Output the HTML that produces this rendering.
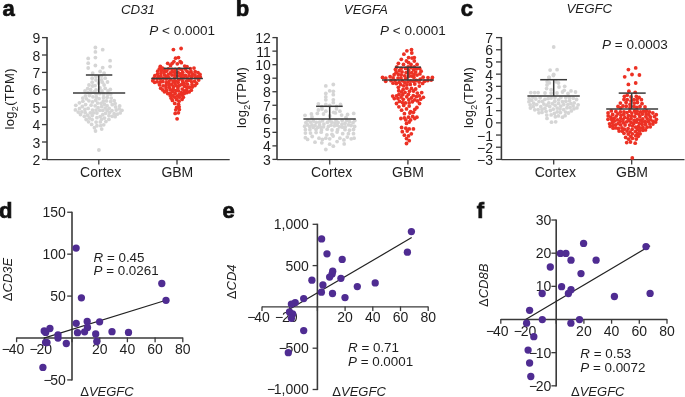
<!DOCTYPE html>
<html><head><meta charset="utf-8"><style>
html,body{margin:0;padding:0;background:#fff;overflow:hidden;width:685px;height:397px;}
svg{display:block;filter:blur(0.4px);font-family:"Liberation Sans",sans-serif;}
</style></head><body>
<svg width="685" height="397" viewBox="0 0 685 397">
<rect width="685" height="397" fill="#fff"/>
<text x="2.5" y="15.6" font-size="22" text-anchor="start" font-weight="bold" fill="#111" stroke="#111" stroke-width="0.7">a</text>
<text x="235.8" y="15.7" font-size="22" text-anchor="start" font-weight="bold" fill="#111" stroke="#111" stroke-width="0.7">b</text>
<text x="460.8" y="15.7" font-size="22" text-anchor="start" font-weight="bold" fill="#111" stroke="#111" stroke-width="0.7">c</text>
<text x="-1" y="218" font-size="22" text-anchor="start" font-weight="bold" fill="#111" stroke="#111" stroke-width="0.7">d</text>
<text x="222.4" y="218.4" font-size="22" text-anchor="start" font-weight="bold" fill="#111" stroke="#111" stroke-width="0.7">e</text>
<text x="476.8" y="217.7" font-size="22" text-anchor="start" font-weight="bold" fill="#111" stroke="#111" stroke-width="0.7">f</text>
<line x1="42" y1="159.4" x2="47" y2="159.4" stroke="#3a3a3a" stroke-width="1.3"/>
<text x="40.4" y="165" font-size="14" text-anchor="end" fill="#1e1e1e">2</text>
<line x1="42" y1="142" x2="47" y2="142" stroke="#3a3a3a" stroke-width="1.3"/>
<text x="40.4" y="147.6" font-size="14" text-anchor="end" fill="#1e1e1e">3</text>
<line x1="42" y1="124.6" x2="47" y2="124.6" stroke="#3a3a3a" stroke-width="1.3"/>
<text x="40.4" y="130.2" font-size="14" text-anchor="end" fill="#1e1e1e">4</text>
<line x1="42" y1="107.2" x2="47" y2="107.2" stroke="#3a3a3a" stroke-width="1.3"/>
<text x="40.4" y="112.8" font-size="14" text-anchor="end" fill="#1e1e1e">5</text>
<line x1="42" y1="89.8" x2="47" y2="89.8" stroke="#3a3a3a" stroke-width="1.3"/>
<text x="40.4" y="95.4" font-size="14" text-anchor="end" fill="#1e1e1e">6</text>
<line x1="42" y1="72.4" x2="47" y2="72.4" stroke="#3a3a3a" stroke-width="1.3"/>
<text x="40.4" y="78" font-size="14" text-anchor="end" fill="#1e1e1e">7</text>
<line x1="42" y1="55" x2="47" y2="55" stroke="#3a3a3a" stroke-width="1.3"/>
<text x="40.4" y="60.6" font-size="14" text-anchor="end" fill="#1e1e1e">8</text>
<line x1="42" y1="37.6" x2="47" y2="37.6" stroke="#3a3a3a" stroke-width="1.3"/>
<text x="40.4" y="43.2" font-size="14" text-anchor="end" fill="#1e1e1e">9</text>
<line x1="47" y1="37" x2="47" y2="160" stroke="#3a3a3a" stroke-width="1.6"/>
<line x1="47" y1="159.6" x2="229.7" y2="159.6" stroke="#3a3a3a" stroke-width="1.3"/>
<line x1="98.8" y1="159.4" x2="98.8" y2="164.6" stroke="#3a3a3a" stroke-width="1.3"/>
<line x1="177" y1="159.4" x2="177" y2="164.6" stroke="#3a3a3a" stroke-width="1.3"/>
<text x="80.1" y="176.9" font-size="14" text-anchor="start" fill="#1e1e1e">Cortex</text>
<text x="161.4" y="176.9" font-size="14" text-anchor="start" fill="#1e1e1e">GBM</text>
<text x="121" y="14.4" font-size="13.3" text-anchor="start" font-style="italic" fill="#1e1e1e">CD31</text>
<text x="149.3" y="34.7" font-size="13.5" text-anchor="start" fill="#1e1e1e"><tspan font-style="italic">P</tspan> &lt; 0.0001</text>
<text transform="translate(14.1,98.8) rotate(-90)" font-size="13" letter-spacing="0.3" text-anchor="middle" fill="#1e1e1e">log<tspan font-size="9" dy="4">2</tspan><tspan dy="-4">(TPM)</tspan></text>
<line x1="272.4" y1="159.4" x2="277" y2="159.4" stroke="#3a3a3a" stroke-width="1.3"/>
<text x="270.8" y="165" font-size="14" text-anchor="end" fill="#1e1e1e">3</text>
<line x1="272.4" y1="145.87" x2="277" y2="145.87" stroke="#3a3a3a" stroke-width="1.3"/>
<text x="270.8" y="151.47" font-size="14" text-anchor="end" fill="#1e1e1e">4</text>
<line x1="272.4" y1="132.33" x2="277" y2="132.33" stroke="#3a3a3a" stroke-width="1.3"/>
<text x="270.8" y="137.93" font-size="14" text-anchor="end" fill="#1e1e1e">5</text>
<line x1="272.4" y1="118.8" x2="277" y2="118.8" stroke="#3a3a3a" stroke-width="1.3"/>
<text x="270.8" y="124.4" font-size="14" text-anchor="end" fill="#1e1e1e">6</text>
<line x1="272.4" y1="105.27" x2="277" y2="105.27" stroke="#3a3a3a" stroke-width="1.3"/>
<text x="270.8" y="110.87" font-size="14" text-anchor="end" fill="#1e1e1e">7</text>
<line x1="272.4" y1="91.73" x2="277" y2="91.73" stroke="#3a3a3a" stroke-width="1.3"/>
<text x="270.8" y="97.33" font-size="14" text-anchor="end" fill="#1e1e1e">8</text>
<line x1="272.4" y1="78.2" x2="277" y2="78.2" stroke="#3a3a3a" stroke-width="1.3"/>
<text x="270.8" y="83.8" font-size="14" text-anchor="end" fill="#1e1e1e">9</text>
<line x1="272.4" y1="64.67" x2="277" y2="64.67" stroke="#3a3a3a" stroke-width="1.3"/>
<text x="270.8" y="70.27" font-size="14" text-anchor="end" fill="#1e1e1e">10</text>
<line x1="272.4" y1="51.13" x2="277" y2="51.13" stroke="#3a3a3a" stroke-width="1.3"/>
<text x="270.8" y="56.73" font-size="14" text-anchor="end" fill="#1e1e1e">11</text>
<line x1="272.4" y1="37.6" x2="277" y2="37.6" stroke="#3a3a3a" stroke-width="1.3"/>
<text x="270.8" y="43.2" font-size="14" text-anchor="end" fill="#1e1e1e">12</text>
<line x1="277" y1="37" x2="277" y2="160" stroke="#3a3a3a" stroke-width="1.6"/>
<line x1="277" y1="159.6" x2="460.3" y2="159.6" stroke="#3a3a3a" stroke-width="1.3"/>
<line x1="329.7" y1="159.4" x2="329.7" y2="164.6" stroke="#3a3a3a" stroke-width="1.3"/>
<line x1="407.9" y1="159.4" x2="407.9" y2="164.6" stroke="#3a3a3a" stroke-width="1.3"/>
<text x="311.1" y="176.9" font-size="14" text-anchor="start" fill="#1e1e1e">Cortex</text>
<text x="392" y="176.9" font-size="14" text-anchor="start" fill="#1e1e1e">GBM</text>
<text x="343.8" y="14.2" font-size="13.3" text-anchor="start" font-style="italic" fill="#1e1e1e">VEGFA</text>
<text x="380" y="35" font-size="13.5" text-anchor="start" fill="#1e1e1e"><tspan font-style="italic">P</tspan> &lt; 0.0001</text>
<text transform="translate(245.6,97.5) rotate(-90)" font-size="13" letter-spacing="0.3" text-anchor="middle" fill="#1e1e1e">log<tspan font-size="9" dy="4">2</tspan><tspan dy="-4">(TPM)</tspan></text>
<line x1="496" y1="159.4" x2="501.4" y2="159.4" stroke="#3a3a3a" stroke-width="1.3"/>
<text x="493" y="165" font-size="14" text-anchor="end" fill="#1e1e1e">−3</text>
<line x1="496" y1="147.22" x2="501.4" y2="147.22" stroke="#3a3a3a" stroke-width="1.3"/>
<text x="493" y="152.82" font-size="14" text-anchor="end" fill="#1e1e1e">−2</text>
<line x1="496" y1="135.04" x2="501.4" y2="135.04" stroke="#3a3a3a" stroke-width="1.3"/>
<text x="493" y="140.64" font-size="14" text-anchor="end" fill="#1e1e1e">−1</text>
<line x1="496" y1="122.86" x2="501.4" y2="122.86" stroke="#3a3a3a" stroke-width="1.3"/>
<text x="493" y="128.46" font-size="14" text-anchor="end" fill="#1e1e1e">0</text>
<line x1="496" y1="110.68" x2="501.4" y2="110.68" stroke="#3a3a3a" stroke-width="1.3"/>
<text x="493" y="116.28" font-size="14" text-anchor="end" fill="#1e1e1e">1</text>
<line x1="496" y1="98.5" x2="501.4" y2="98.5" stroke="#3a3a3a" stroke-width="1.3"/>
<text x="493" y="104.1" font-size="14" text-anchor="end" fill="#1e1e1e">2</text>
<line x1="496" y1="86.32" x2="501.4" y2="86.32" stroke="#3a3a3a" stroke-width="1.3"/>
<text x="493" y="91.92" font-size="14" text-anchor="end" fill="#1e1e1e">3</text>
<line x1="496" y1="74.14" x2="501.4" y2="74.14" stroke="#3a3a3a" stroke-width="1.3"/>
<text x="493" y="79.74" font-size="14" text-anchor="end" fill="#1e1e1e">4</text>
<line x1="496" y1="61.96" x2="501.4" y2="61.96" stroke="#3a3a3a" stroke-width="1.3"/>
<text x="493" y="67.56" font-size="14" text-anchor="end" fill="#1e1e1e">5</text>
<line x1="496" y1="49.78" x2="501.4" y2="49.78" stroke="#3a3a3a" stroke-width="1.3"/>
<text x="493" y="55.38" font-size="14" text-anchor="end" fill="#1e1e1e">6</text>
<line x1="496" y1="37.6" x2="501.4" y2="37.6" stroke="#3a3a3a" stroke-width="1.3"/>
<text x="493" y="43.2" font-size="14" text-anchor="end" fill="#1e1e1e">7</text>
<line x1="501.4" y1="37" x2="501.4" y2="160" stroke="#3a3a3a" stroke-width="1.6"/>
<line x1="501.4" y1="159.6" x2="684.5" y2="159.6" stroke="#3a3a3a" stroke-width="1.3"/>
<line x1="553.7" y1="159.4" x2="553.7" y2="164.6" stroke="#3a3a3a" stroke-width="1.3"/>
<line x1="631.7" y1="159.4" x2="631.7" y2="164.6" stroke="#3a3a3a" stroke-width="1.3"/>
<text x="534.7" y="176.9" font-size="14" text-anchor="start" fill="#1e1e1e">Cortex</text>
<text x="616.1" y="176.9" font-size="14" text-anchor="start" fill="#1e1e1e">GBM</text>
<text x="566.4" y="13.4" font-size="13.3" text-anchor="start" font-style="italic" fill="#1e1e1e">VEGFC</text>
<text x="602" y="48.7" font-size="13.5" text-anchor="start" fill="#1e1e1e"><tspan font-style="italic">P</tspan> = 0.0003</text>
<text transform="translate(472.5,97.5) rotate(-90)" font-size="13" letter-spacing="0.3" text-anchor="middle" fill="#1e1e1e">log<tspan font-size="9" dy="4">2</tspan><tspan dy="-4">(TPM)</tspan></text>
<g fill="#d5d5d5"><circle cx="95.4" cy="47.5" r="1.9"/><circle cx="95.4" cy="51.9" r="1.9"/><circle cx="102.7" cy="49.7" r="1.9"/><circle cx="95.4" cy="57.6" r="1.9"/><circle cx="88.2" cy="58.4" r="1.9"/><circle cx="88.2" cy="63.2" r="1.9"/><circle cx="110.1" cy="60.7" r="1.9"/><circle cx="95.4" cy="65.5" r="1.9"/><circle cx="88.2" cy="68" r="1.9"/><circle cx="102.7" cy="67.7" r="1.9"/><circle cx="110.1" cy="66.6" r="1.9"/><circle cx="92.7" cy="73.1" r="1.9"/><circle cx="100.1" cy="71.4" r="1.9"/><circle cx="104.1" cy="73.1" r="1.9"/><circle cx="92.2" cy="78.2" r="1.9"/><circle cx="105.2" cy="78.2" r="1.9"/><circle cx="92.2" cy="82.2" r="1.9"/><circle cx="95" cy="85.6" r="1.9"/><circle cx="102.4" cy="82.2" r="1.9"/><circle cx="104.1" cy="85" r="1.9"/><circle cx="87.6" cy="88.7" r="1.9"/><circle cx="90.5" cy="89.5" r="1.9"/><circle cx="110.3" cy="89.5" r="1.9"/><circle cx="105.2" cy="88.4" r="1.9"/><circle cx="96" cy="76.5" r="1.9"/><circle cx="101.5" cy="76" r="1.9"/><circle cx="96" cy="80" r="1.9"/><circle cx="101.5" cy="80" r="1.9"/><circle cx="98.5" cy="83" r="1.9"/><circle cx="92.5" cy="86" r="1.9"/><circle cx="100" cy="88" r="1.9"/><circle cx="96" cy="90" r="1.9"/><circle cx="102" cy="91" r="1.9"/><circle cx="94" cy="92" r="1.9"/><circle cx="85" cy="91" r="1.9"/><circle cx="108" cy="91" r="1.9"/><circle cx="89" cy="85" r="1.9"/><circle cx="107.5" cy="82" r="1.9"/><circle cx="95.5" cy="131" r="1.9"/><circle cx="101.7" cy="129.1" r="1.9"/><circle cx="98.9" cy="150" r="1.9"/><circle cx="107.2" cy="97.34" r="1.9"/><circle cx="92.11" cy="119.56" r="1.9"/><circle cx="96" cy="110.09" r="1.9"/><circle cx="108.95" cy="115.6" r="1.9"/><circle cx="85.43" cy="95.91" r="1.9"/><circle cx="96.1" cy="122.1" r="1.9"/><circle cx="86.18" cy="119.51" r="1.9"/><circle cx="109.13" cy="108.32" r="1.9"/><circle cx="114.19" cy="100.68" r="1.9"/><circle cx="91.66" cy="124.42" r="1.9"/><circle cx="99.71" cy="93.5" r="1.9"/><circle cx="96.93" cy="125.75" r="1.9"/><circle cx="95.65" cy="100.25" r="1.9"/><circle cx="88.86" cy="100.83" r="1.9"/><circle cx="79.41" cy="102.83" r="1.9"/><circle cx="87.7" cy="115.27" r="1.9"/><circle cx="92.92" cy="96.87" r="1.9"/><circle cx="104.55" cy="118.07" r="1.9"/><circle cx="100.34" cy="121.9" r="1.9"/><circle cx="101.04" cy="103.31" r="1.9"/><circle cx="102.8" cy="110.44" r="1.9"/><circle cx="99.09" cy="98.71" r="1.9"/><circle cx="95.13" cy="105.83" r="1.9"/><circle cx="111.99" cy="110.55" r="1.9"/><circle cx="75.42" cy="109.89" r="1.9"/><circle cx="103.62" cy="94.14" r="1.9"/><circle cx="82.3" cy="106.49" r="1.9"/><circle cx="121.94" cy="110.33" r="1.9"/><circle cx="96.89" cy="113" r="1.9"/><circle cx="85.25" cy="112.72" r="1.9"/><circle cx="91.05" cy="105.19" r="1.9"/><circle cx="110.66" cy="101.61" r="1.9"/><circle cx="84.34" cy="116.36" r="1.9"/><circle cx="96.93" cy="117.72" r="1.9"/><circle cx="103.55" cy="97.77" r="1.9"/><circle cx="100.16" cy="116.54" r="1.9"/><circle cx="101.64" cy="106.54" r="1.9"/><circle cx="115.11" cy="103.56" r="1.9"/><circle cx="105.88" cy="121.53" r="1.9"/><circle cx="97.64" cy="103.05" r="1.9"/><circle cx="85.58" cy="104.57" r="1.9"/><circle cx="106.43" cy="100.88" r="1.9"/><circle cx="89.4" cy="95.59" r="1.9"/><circle cx="88.58" cy="121.82" r="1.9"/><circle cx="119.68" cy="105.95" r="1.9"/><circle cx="103.72" cy="124.84" r="1.9"/><circle cx="82.88" cy="101.2" r="1.9"/><circle cx="78.19" cy="112.06" r="1.9"/><circle cx="116.2" cy="110.01" r="1.9"/><circle cx="84.92" cy="109.5" r="1.9"/><circle cx="107.09" cy="105.72" r="1.9"/><circle cx="110.74" cy="94.04" r="1.9"/><circle cx="90.99" cy="92.74" r="1.9"/><circle cx="102.75" cy="114.75" r="1.9"/><circle cx="108.88" cy="119.47" r="1.9"/><circle cx="90.3" cy="112.81" r="1.9"/><circle cx="114.16" cy="113.72" r="1.9"/><circle cx="75.8" cy="105.29" r="1.9"/><circle cx="115.6" cy="106.91" r="1.9"/><circle cx="81.89" cy="111.81" r="1.9"/><circle cx="112.25" cy="104.69" r="1.9"/><circle cx="92.5" cy="110.07" r="1.9"/><circle cx="94.42" cy="127.7" r="1.9"/><circle cx="96.39" cy="97.19" r="1.9"/><circle cx="92.24" cy="115.58" r="1.9"/><circle cx="99.74" cy="110.29" r="1.9"/><circle cx="120.17" cy="112.92" r="1.9"/><circle cx="79.52" cy="108.7" r="1.9"/><circle cx="115.15" cy="116.63" r="1.9"/><circle cx="112.12" cy="116.36" r="1.9"/><circle cx="111.19" cy="98.09" r="1.9"/><circle cx="100.72" cy="125.63" r="1.9"/><circle cx="105.56" cy="113.37" r="1.9"/><circle cx="105.18" cy="108.04" r="1.9"/><circle cx="109.64" cy="112.45" r="1.9"/><circle cx="82.78" cy="98.06" r="1.9"/><circle cx="89.38" cy="117.98" r="1.9"/><circle cx="103.31" cy="101.26" r="1.9"/><circle cx="92.47" cy="101.92" r="1.9"/><circle cx="96.27" cy="94.15" r="1.9"/><circle cx="88.13" cy="108.41" r="1.9"/><circle cx="104.43" cy="104.29" r="1.9"/><circle cx="98.02" cy="107.68" r="1.9"/><circle cx="87.95" cy="92.62" r="1.9"/><circle cx="107.72" cy="94.3" r="1.9"/><circle cx="86.46" cy="98.78" r="1.9"/><circle cx="80.48" cy="114.5" r="1.9"/><circle cx="93.65" cy="112.85" r="1.9"/><circle cx="107.11" cy="110.61" r="1.9"/><circle cx="119.25" cy="108.93" r="1.9"/><circle cx="117.26" cy="114.14" r="1.9"/><circle cx="101.64" cy="119.16" r="1.9"/></g>
<g fill="#ec3124"><circle cx="173.4" cy="49.6" r="1.9"/><circle cx="181.1" cy="48.5" r="1.9"/><circle cx="175.6" cy="58.2" r="1.9"/><circle cx="178.5" cy="57.6" r="1.9"/><circle cx="173.9" cy="61.6" r="1.9"/><circle cx="180.2" cy="61.6" r="1.9"/><circle cx="172.2" cy="63.3" r="1.9"/><circle cx="177.3" cy="63.8" r="1.9"/><circle cx="167.7" cy="63.3" r="1.9"/><circle cx="170.5" cy="65.5" r="1.9"/><circle cx="181.3" cy="62.7" r="1.9"/><circle cx="160.3" cy="66.3" r="1.9"/><circle cx="194" cy="68.1" r="1.9"/><circle cx="184.7" cy="66.1" r="1.9"/><circle cx="187" cy="66.7" r="1.9"/><circle cx="175.2" cy="113.4" r="1.9"/><circle cx="178.4" cy="112.8" r="1.9"/><circle cx="177.1" cy="118.8" r="1.9"/><circle cx="179.31" cy="109.59" r="1.9"/><circle cx="161.32" cy="70.46" r="1.9"/><circle cx="178.54" cy="104.34" r="1.9"/><circle cx="174.6" cy="97.13" r="1.9"/><circle cx="179.27" cy="94.36" r="1.9"/><circle cx="170.12" cy="93.28" r="1.9"/><circle cx="173.45" cy="86.73" r="1.9"/><circle cx="182.04" cy="99.45" r="1.9"/><circle cx="169.26" cy="87.35" r="1.9"/><circle cx="192.08" cy="84.53" r="1.9"/><circle cx="178.47" cy="90.87" r="1.9"/><circle cx="153.86" cy="78.27" r="1.9"/><circle cx="160.18" cy="82.14" r="1.9"/><circle cx="191.27" cy="90.19" r="1.9"/><circle cx="179.12" cy="106.87" r="1.9"/><circle cx="179.02" cy="101.19" r="1.9"/><circle cx="196.62" cy="83.39" r="1.9"/><circle cx="175.79" cy="109.84" r="1.9"/><circle cx="177.9" cy="88.07" r="1.9"/><circle cx="186.69" cy="89.79" r="1.9"/><circle cx="186.64" cy="92.7" r="1.9"/><circle cx="176.59" cy="99.48" r="1.9"/><circle cx="168.62" cy="77.65" r="1.9"/><circle cx="162.77" cy="81.57" r="1.9"/><circle cx="176.61" cy="107.48" r="1.9"/><circle cx="172.41" cy="100.4" r="1.9"/><circle cx="195.56" cy="77.86" r="1.9"/><circle cx="178.15" cy="72.62" r="1.9"/><circle cx="184.64" cy="86.4" r="1.9"/><circle cx="172" cy="69.39" r="1.9"/><circle cx="185.46" cy="75.48" r="1.9"/><circle cx="195.18" cy="71.61" r="1.9"/><circle cx="185.39" cy="69.1" r="1.9"/><circle cx="168.22" cy="68.92" r="1.9"/><circle cx="174.76" cy="103.38" r="1.9"/><circle cx="159.49" cy="84.77" r="1.9"/><circle cx="170.33" cy="72.92" r="1.9"/><circle cx="175.17" cy="69.34" r="1.9"/><circle cx="175.03" cy="72.44" r="1.9"/><circle cx="175.11" cy="93.45" r="1.9"/><circle cx="166.61" cy="90.39" r="1.9"/><circle cx="179.14" cy="68.78" r="1.9"/><circle cx="157.46" cy="74.11" r="1.9"/><circle cx="164.6" cy="69.46" r="1.9"/><circle cx="182.69" cy="72.17" r="1.9"/><circle cx="174.43" cy="78.11" r="1.9"/><circle cx="181.4" cy="78.91" r="1.9"/><circle cx="182.12" cy="95.15" r="1.9"/><circle cx="163.12" cy="85.78" r="1.9"/><circle cx="164.05" cy="72.34" r="1.9"/><circle cx="163.32" cy="78.07" r="1.9"/><circle cx="175.8" cy="90.65" r="1.9"/><circle cx="182.75" cy="81.47" r="1.9"/><circle cx="176.58" cy="85.86" r="1.9"/><circle cx="187.07" cy="71.33" r="1.9"/><circle cx="180.81" cy="76.37" r="1.9"/><circle cx="160.92" cy="73.3" r="1.9"/><circle cx="190.94" cy="71.5" r="1.9"/><circle cx="171.21" cy="98.13" r="1.9"/><circle cx="174.97" cy="83.55" r="1.9"/><circle cx="179.34" cy="97.18" r="1.9"/><circle cx="177.83" cy="75.85" r="1.9"/><circle cx="192.03" cy="76.33" r="1.9"/><circle cx="200.3" cy="76.92" r="1.9"/><circle cx="157.76" cy="71.17" r="1.9"/><circle cx="182.25" cy="89.1" r="1.9"/><circle cx="166.34" cy="82.57" r="1.9"/><circle cx="162.79" cy="89.88" r="1.9"/><circle cx="189.13" cy="75.56" r="1.9"/><circle cx="171.87" cy="75.07" r="1.9"/><circle cx="189.45" cy="87.26" r="1.9"/><circle cx="198.7" cy="80.07" r="1.9"/><circle cx="171.64" cy="84.5" r="1.9"/><circle cx="157.14" cy="81.85" r="1.9"/><circle cx="166" cy="87.9" r="1.9"/><circle cx="187.42" cy="84.22" r="1.9"/><circle cx="191.63" cy="81.78" r="1.9"/><circle cx="198.04" cy="72.71" r="1.9"/><circle cx="197.78" cy="76.68" r="1.9"/><circle cx="181.66" cy="84.49" r="1.9"/><circle cx="172.67" cy="95.28" r="1.9"/><circle cx="168.98" cy="84.41" r="1.9"/><circle cx="187.09" cy="77.97" r="1.9"/><circle cx="158.33" cy="76.52" r="1.9"/><circle cx="178.12" cy="82.5" r="1.9"/><circle cx="190.28" cy="68.55" r="1.9"/><circle cx="177.12" cy="96.06" r="1.9"/><circle cx="168.2" cy="74.58" r="1.9"/><circle cx="191.01" cy="78.73" r="1.9"/><circle cx="170.26" cy="89.76" r="1.9"/><circle cx="192.31" cy="87.03" r="1.9"/><circle cx="181.32" cy="92.75" r="1.9"/><circle cx="178.76" cy="79.67" r="1.9"/><circle cx="164.4" cy="74.86" r="1.9"/><circle cx="166.18" cy="79.1" r="1.9"/><circle cx="184.2" cy="93.5" r="1.9"/><circle cx="154.59" cy="82.37" r="1.9"/><circle cx="189.01" cy="80.23" r="1.9"/><circle cx="167.67" cy="93.52" r="1.9"/><circle cx="175.59" cy="81.12" r="1.9"/><circle cx="172.48" cy="91.72" r="1.9"/><circle cx="189.17" cy="91.89" r="1.9"/><circle cx="194.63" cy="81.3" r="1.9"/><circle cx="184.23" cy="90.84" r="1.9"/><circle cx="179.22" cy="85.67" r="1.9"/><circle cx="194.93" cy="74.98" r="1.9"/><circle cx="174.8" cy="75.23" r="1.9"/><circle cx="181.66" cy="69.54" r="1.9"/><circle cx="154.86" cy="75.75" r="1.9"/><circle cx="170.61" cy="79.32" r="1.9"/><circle cx="157.14" cy="78.7" r="1.9"/><circle cx="168.94" cy="81.69" r="1.9"/><circle cx="160.71" cy="88.27" r="1.9"/><circle cx="166.45" cy="71.2" r="1.9"/><circle cx="160.83" cy="76.09" r="1.9"/><circle cx="184.15" cy="83.55" r="1.9"/><circle cx="194.97" cy="85.6" r="1.9"/><circle cx="186.43" cy="81.07" r="1.9"/><circle cx="192.36" cy="73.82" r="1.9"/><circle cx="166" cy="85.38" r="1.9"/><circle cx="182.73" cy="74.83" r="1.9"/><circle cx="183.65" cy="77.92" r="1.9"/><circle cx="160.53" cy="79.1" r="1.9"/><circle cx="173.16" cy="81.46" r="1.9"/><circle cx="180.41" cy="73.81" r="1.9"/><circle cx="186.99" cy="87.35" r="1.9"/><circle cx="164.42" cy="91.75" r="1.9"/><circle cx="159.4" cy="68.84" r="1.9"/><circle cx="166.13" cy="76.63" r="1.9"/><circle cx="170.25" cy="95.73" r="1.9"/><circle cx="173.2" cy="89.2" r="1.9"/><circle cx="188.95" cy="73.02" r="1.9"/><circle cx="199.98" cy="74.37" r="1.9"/><circle cx="172.61" cy="71.91" r="1.9"/><circle cx="162.46" cy="68.17" r="1.9"/><circle cx="183.31" cy="97.3" r="1.9"/><circle cx="152.79" cy="80.69" r="1.9"/></g>
<g fill="#d5d5d5"><circle cx="325.8" cy="85.9" r="1.9"/><circle cx="333.3" cy="84.5" r="1.9"/><circle cx="329.7" cy="90.8" r="1.9"/><circle cx="333.3" cy="91.3" r="1.9"/><circle cx="325.8" cy="93.4" r="1.9"/><circle cx="333.3" cy="94.7" r="1.9"/><circle cx="325.8" cy="97" r="1.9"/><circle cx="325.8" cy="99.8" r="1.9"/><circle cx="333.3" cy="99.8" r="1.9"/><circle cx="333.3" cy="102.7" r="1.9"/><circle cx="318.4" cy="103.8" r="1.9"/><circle cx="325.8" cy="104.4" r="1.9"/><circle cx="340.5" cy="104.4" r="1.9"/><circle cx="321.8" cy="106.6" r="1.9"/><circle cx="329.7" cy="105.5" r="1.9"/><circle cx="336.5" cy="106.5" r="1.9"/><circle cx="318.4" cy="110" r="1.9"/><circle cx="325.8" cy="111.2" r="1.9"/><circle cx="317.3" cy="113.4" r="1.9"/><circle cx="323.5" cy="114" r="1.9"/><circle cx="336.5" cy="108.9" r="1.9"/><circle cx="339.9" cy="111.2" r="1.9"/><circle cx="333.7" cy="112.3" r="1.9"/><circle cx="335.4" cy="112.9" r="1.9"/><circle cx="341.6" cy="115.1" r="1.9"/><circle cx="311.4" cy="114" r="1.9"/><circle cx="305" cy="115.3" r="1.9"/><circle cx="347.6" cy="114.5" r="1.9"/><circle cx="353.7" cy="113.4" r="1.9"/><circle cx="322" cy="109" r="1.9"/><circle cx="329.7" cy="116" r="1.9"/><circle cx="312" cy="117" r="1.9"/><circle cx="346" cy="117.5" r="1.9"/><circle cx="305.4" cy="129.7" r="1.9"/><circle cx="309.9" cy="129.7" r="1.9"/><circle cx="316" cy="129.5" r="1.9"/><circle cx="327.2" cy="129.2" r="1.9"/><circle cx="337.6" cy="129.7" r="1.9"/><circle cx="345" cy="129.7" r="1.9"/><circle cx="353.5" cy="129.5" r="1.9"/><circle cx="321.5" cy="130" r="1.9"/><circle cx="332" cy="130" r="1.9"/><circle cx="349.5" cy="130.2" r="1.9"/><circle cx="305.4" cy="133.1" r="1.9"/><circle cx="310.5" cy="133.1" r="1.9"/><circle cx="316.1" cy="132.6" r="1.9"/><circle cx="321.2" cy="132.2" r="1.9"/><circle cx="326.9" cy="134.8" r="1.9"/><circle cx="332" cy="134.3" r="1.9"/><circle cx="337.1" cy="132" r="1.9"/><circle cx="342.7" cy="133.7" r="1.9"/><circle cx="348.4" cy="133.7" r="1.9"/><circle cx="353.5" cy="133.7" r="1.9"/><circle cx="305.4" cy="137.7" r="1.9"/><circle cx="307.6" cy="139.4" r="1.9"/><circle cx="312.2" cy="136.5" r="1.9"/><circle cx="319" cy="138.2" r="1.9"/><circle cx="322.4" cy="139.4" r="1.9"/><circle cx="325.8" cy="138.2" r="1.9"/><circle cx="329.7" cy="138.8" r="1.9"/><circle cx="333.1" cy="136" r="1.9"/><circle cx="339.9" cy="138.2" r="1.9"/><circle cx="343.9" cy="139.9" r="1.9"/><circle cx="347.3" cy="137.1" r="1.9"/><circle cx="351.2" cy="138.8" r="1.9"/><circle cx="354.1" cy="138.2" r="1.9"/><circle cx="315" cy="142.2" r="1.9"/><circle cx="321.8" cy="142.8" r="1.9"/><circle cx="329.7" cy="144.2" r="1.9"/><circle cx="337.1" cy="141.6" r="1.9"/><circle cx="344.2" cy="143.9" r="1.9"/><circle cx="333.3" cy="146.2" r="1.9"/><circle cx="325.8" cy="149.5" r="1.9"/><circle cx="331.95" cy="122.17" r="1.9"/><circle cx="334.98" cy="123.09" r="1.9"/><circle cx="307.63" cy="124.88" r="1.9"/><circle cx="346.84" cy="120.59" r="1.9"/><circle cx="316.2" cy="122.32" r="1.9"/><circle cx="328.5" cy="126.36" r="1.9"/><circle cx="311.95" cy="124.97" r="1.9"/><circle cx="348.4" cy="124.94" r="1.9"/><circle cx="341.96" cy="124.16" r="1.9"/><circle cx="334.33" cy="125.81" r="1.9"/><circle cx="305.88" cy="122.61" r="1.9"/><circle cx="351.09" cy="125.5" r="1.9"/><circle cx="344.99" cy="123.26" r="1.9"/><circle cx="319.59" cy="124.89" r="1.9"/><circle cx="323.9" cy="124.05" r="1.9"/><circle cx="354.64" cy="126.49" r="1.9"/><circle cx="315.03" cy="125.5" r="1.9"/><circle cx="353" cy="122.7" r="1.9"/><circle cx="323.49" cy="126.78" r="1.9"/><circle cx="319.6" cy="122.16" r="1.9"/><circle cx="327.48" cy="122.26" r="1.9"/><circle cx="310.44" cy="122.08" r="1.9"/><circle cx="339.54" cy="126.83" r="1.9"/><circle cx="342.16" cy="120.59" r="1.9"/><circle cx="330.97" cy="125.14" r="1.9"/><circle cx="345.25" cy="126.95" r="1.9"/><circle cx="304.68" cy="126.26" r="1.9"/><circle cx="313.37" cy="121.06" r="1.9"/><circle cx="338.1" cy="122.42" r="1.9"/><circle cx="349.51" cy="121.75" r="1.9"/><circle cx="322.58" cy="120.85" r="1.9"/><circle cx="337.16" cy="125.22" r="1.9"/><circle cx="317.86" cy="127.33" r="1.9"/><circle cx="342.49" cy="127.17" r="1.9"/><circle cx="307.78" cy="120.61" r="1.9"/><circle cx="313.13" cy="127.43" r="1.9"/><circle cx="309.67" cy="126.76" r="1.9"/><circle cx="320.84" cy="127.36" r="1.9"/><circle cx="354.83" cy="120.59" r="1.9"/><circle cx="335.96" cy="120.54" r="1.9"/><circle cx="329.58" cy="120.56" r="1.9"/></g>
<g fill="#ec3124"><circle cx="406.9" cy="50.8" r="1.9"/><circle cx="411.5" cy="49.6" r="1.9"/><circle cx="411.8" cy="53" r="1.9"/><circle cx="403.9" cy="54.2" r="1.9"/><circle cx="408.6" cy="57.6" r="1.9"/><circle cx="412" cy="58.1" r="1.9"/><circle cx="414.3" cy="57.6" r="1.9"/><circle cx="401.3" cy="59.3" r="1.9"/><circle cx="406.4" cy="61" r="1.9"/><circle cx="414.3" cy="61" r="1.9"/><circle cx="398.4" cy="63.3" r="1.9"/><circle cx="417.1" cy="64.4" r="1.9"/><circle cx="408.6" cy="62.7" r="1.9"/><circle cx="403.5" cy="64.4" r="1.9"/><circle cx="411" cy="64.5" r="1.9"/><circle cx="382.5" cy="77.4" r="1.9"/><circle cx="432.4" cy="77.4" r="1.9"/><circle cx="398.9" cy="106.8" r="1.9"/><circle cx="403.7" cy="105.4" r="1.9"/><circle cx="409.2" cy="106.1" r="1.9"/><circle cx="416.9" cy="107.5" r="1.9"/><circle cx="401.6" cy="110.2" r="1.9"/><circle cx="406.5" cy="108.9" r="1.9"/><circle cx="410.6" cy="111.6" r="1.9"/><circle cx="414.8" cy="109.5" r="1.9"/><circle cx="404.4" cy="113.7" r="1.9"/><circle cx="409.9" cy="113" r="1.9"/><circle cx="413.4" cy="112.3" r="1.9"/><circle cx="400.9" cy="118.5" r="1.9"/><circle cx="404.4" cy="117.9" r="1.9"/><circle cx="408.5" cy="117.2" r="1.9"/><circle cx="412.7" cy="116.5" r="1.9"/><circle cx="416.9" cy="117.2" r="1.9"/><circle cx="405.8" cy="119.9" r="1.9"/><circle cx="410.6" cy="119.9" r="1.9"/><circle cx="414.8" cy="118.5" r="1.9"/><circle cx="406.5" cy="123.4" r="1.9"/><circle cx="409.2" cy="122" r="1.9"/><circle cx="401.6" cy="127.5" r="1.9"/><circle cx="405.8" cy="128.2" r="1.9"/><circle cx="409.2" cy="128.9" r="1.9"/><circle cx="413.4" cy="128.9" r="1.9"/><circle cx="402.3" cy="131.7" r="1.9"/><circle cx="407.2" cy="131" r="1.9"/><circle cx="404.4" cy="135.2" r="1.9"/><circle cx="408.5" cy="135.9" r="1.9"/><circle cx="411.3" cy="133.8" r="1.9"/><circle cx="406.5" cy="138.6" r="1.9"/><circle cx="409.2" cy="140.7" r="1.9"/><circle cx="406.5" cy="143.5" r="1.9"/><circle cx="421.7" cy="92.6" r="1.9"/><circle cx="419.5" cy="103.5" r="1.9"/><circle cx="396.5" cy="103.5" r="1.9"/><circle cx="394.15" cy="74.73" r="1.9"/><circle cx="391.04" cy="80.65" r="1.9"/><circle cx="405.54" cy="68.46" r="1.9"/><circle cx="414.71" cy="99.96" r="1.9"/><circle cx="399.01" cy="94.31" r="1.9"/><circle cx="403.76" cy="85.86" r="1.9"/><circle cx="396.11" cy="72.39" r="1.9"/><circle cx="419.91" cy="73.93" r="1.9"/><circle cx="416.36" cy="96.67" r="1.9"/><circle cx="413.93" cy="77.46" r="1.9"/><circle cx="417.29" cy="93.08" r="1.9"/><circle cx="394.28" cy="98.56" r="1.9"/><circle cx="411.49" cy="88.42" r="1.9"/><circle cx="400.73" cy="84.72" r="1.9"/><circle cx="396.33" cy="83.52" r="1.9"/><circle cx="408.84" cy="99.63" r="1.9"/><circle cx="406.91" cy="84.81" r="1.9"/><circle cx="406.74" cy="88.16" r="1.9"/><circle cx="402.02" cy="71.97" r="1.9"/><circle cx="392.69" cy="96.07" r="1.9"/><circle cx="411.03" cy="67.71" r="1.9"/><circle cx="408.35" cy="76.38" r="1.9"/><circle cx="405.43" cy="102.9" r="1.9"/><circle cx="403.11" cy="89.41" r="1.9"/><circle cx="420.22" cy="79.17" r="1.9"/><circle cx="401.28" cy="68.28" r="1.9"/><circle cx="408.46" cy="94.31" r="1.9"/><circle cx="401.28" cy="74.78" r="1.9"/><circle cx="406.14" cy="72.57" r="1.9"/><circle cx="420.59" cy="99.15" r="1.9"/><circle cx="412.39" cy="101.74" r="1.9"/><circle cx="424.69" cy="81.19" r="1.9"/><circle cx="431.22" cy="80.12" r="1.9"/><circle cx="390.11" cy="76.74" r="1.9"/><circle cx="408.67" cy="70.52" r="1.9"/><circle cx="402.79" cy="94.63" r="1.9"/><circle cx="406.78" cy="96.75" r="1.9"/><circle cx="399.49" cy="101.38" r="1.9"/><circle cx="398.72" cy="90.73" r="1.9"/><circle cx="397.91" cy="98.51" r="1.9"/><circle cx="396.87" cy="66.98" r="1.9"/><circle cx="411.37" cy="97.99" r="1.9"/><circle cx="419.17" cy="82.06" r="1.9"/><circle cx="423.12" cy="77.19" r="1.9"/><circle cx="419.37" cy="86.05" r="1.9"/><circle cx="414.78" cy="84" r="1.9"/><circle cx="427.97" cy="77.59" r="1.9"/><circle cx="396.53" cy="95.93" r="1.9"/><circle cx="403.24" cy="99.37" r="1.9"/><circle cx="411.76" cy="72.65" r="1.9"/><circle cx="398.06" cy="78.09" r="1.9"/><circle cx="413.28" cy="95.64" r="1.9"/><circle cx="413.5" cy="90.99" r="1.9"/><circle cx="410.73" cy="81.03" r="1.9"/><circle cx="402.38" cy="80.81" r="1.9"/><circle cx="385.69" cy="81.23" r="1.9"/><circle cx="419.7" cy="68.51" r="1.9"/><circle cx="415.65" cy="72.04" r="1.9"/><circle cx="409.53" cy="91.19" r="1.9"/><circle cx="416.5" cy="80.48" r="1.9"/><circle cx="410.28" cy="84.43" r="1.9"/><circle cx="405.71" cy="78.6" r="1.9"/><circle cx="416.63" cy="68.8" r="1.9"/><circle cx="414.34" cy="67.01" r="1.9"/><circle cx="423.34" cy="97.29" r="1.9"/><circle cx="395.1" cy="80.56" r="1.9"/><circle cx="415.69" cy="89" r="1.9"/><circle cx="399.16" cy="70.73" r="1.9"/><circle cx="422.62" cy="83.44" r="1.9"/><circle cx="398.29" cy="74.5" r="1.9"/><circle cx="427.77" cy="80.59" r="1.9"/><circle cx="405.03" cy="92.42" r="1.9"/><circle cx="419.21" cy="95.97" r="1.9"/><circle cx="409.13" cy="102.97" r="1.9"/><circle cx="404.82" cy="82.67" r="1.9"/><circle cx="398.37" cy="87.32" r="1.9"/><circle cx="408.11" cy="67" r="1.9"/><circle cx="399.16" cy="82.26" r="1.9"/><circle cx="385.77" cy="78.12" r="1.9"/><circle cx="417.08" cy="75.08" r="1.9"/><circle cx="393.07" cy="83.15" r="1.9"/><circle cx="413.63" cy="69.87" r="1.9"/><circle cx="417.53" cy="100.95" r="1.9"/><circle cx="421.15" cy="71.18" r="1.9"/><circle cx="404.69" cy="75.81" r="1.9"/><circle cx="393.13" cy="77.96" r="1.9"/><circle cx="411.37" cy="76.05" r="1.9"/><circle cx="400.98" cy="77.96" r="1.9"/><circle cx="401.09" cy="97.01" r="1.9"/><circle cx="407.93" cy="81.9" r="1.9"/><circle cx="413.62" cy="81.3" r="1.9"/><circle cx="402.46" cy="102.62" r="1.9"/><circle cx="401.52" cy="91.95" r="1.9"/><circle cx="395.41" cy="69.52" r="1.9"/><circle cx="414.03" cy="74.55" r="1.9"/><circle cx="408.97" cy="73.54" r="1.9"/></g>
<g fill="#d5d5d5"><circle cx="553.7" cy="47" r="1.9"/><circle cx="550.1" cy="70.1" r="1.9"/><circle cx="557.1" cy="69.7" r="1.9"/><circle cx="553.7" cy="74.3" r="1.9"/><circle cx="549.2" cy="77.4" r="1.9"/><circle cx="548.9" cy="77.3" r="1.9"/><circle cx="553.4" cy="75.5" r="1.9"/><circle cx="547.2" cy="81.8" r="1.9"/><circle cx="549.4" cy="82.9" r="1.9"/><circle cx="556.2" cy="81.8" r="1.9"/><circle cx="558.5" cy="83" r="1.9"/><circle cx="546.6" cy="88.6" r="1.9"/><circle cx="551.1" cy="89.7" r="1.9"/><circle cx="564.7" cy="86.3" r="1.9"/><circle cx="564.2" cy="90.3" r="1.9"/><circle cx="562.5" cy="92" r="1.9"/><circle cx="571" cy="90.9" r="1.9"/><circle cx="575.5" cy="92" r="1.9"/><circle cx="530.8" cy="92.6" r="1.9"/><circle cx="534.7" cy="92.6" r="1.9"/><circle cx="538.1" cy="92.6" r="1.9"/><circle cx="551.1" cy="93.1" r="1.9"/><circle cx="545" cy="93" r="1.9"/><circle cx="557" cy="93" r="1.9"/><circle cx="568" cy="93.5" r="1.9"/><circle cx="547" cy="85" r="1.9"/><circle cx="559" cy="87" r="1.9"/><circle cx="547" cy="118.4" r="1.9"/><circle cx="562.5" cy="117.2" r="1.9"/><circle cx="551.5" cy="122.2" r="1.9"/><circle cx="555.7" cy="121.8" r="1.9"/><circle cx="563.69" cy="109.65" r="1.9"/><circle cx="568.45" cy="113.01" r="1.9"/><circle cx="551.14" cy="98.07" r="1.9"/><circle cx="558.42" cy="115.9" r="1.9"/><circle cx="546.76" cy="115.07" r="1.9"/><circle cx="540.81" cy="106.65" r="1.9"/><circle cx="557.16" cy="108.1" r="1.9"/><circle cx="540.15" cy="97.76" r="1.9"/><circle cx="574.15" cy="102.95" r="1.9"/><circle cx="542.03" cy="112.43" r="1.9"/><circle cx="538.12" cy="109.54" r="1.9"/><circle cx="569.44" cy="97.53" r="1.9"/><circle cx="539.02" cy="101.58" r="1.9"/><circle cx="571.32" cy="110.97" r="1.9"/><circle cx="551.14" cy="114.93" r="1.9"/><circle cx="536.66" cy="104.54" r="1.9"/><circle cx="531.67" cy="100.34" r="1.9"/><circle cx="558.53" cy="103.38" r="1.9"/><circle cx="560.86" cy="97.57" r="1.9"/><circle cx="543.88" cy="104.09" r="1.9"/><circle cx="554.39" cy="113.46" r="1.9"/><circle cx="552.45" cy="103.66" r="1.9"/><circle cx="565.57" cy="112.12" r="1.9"/><circle cx="565.83" cy="97.85" r="1.9"/><circle cx="565.83" cy="101.33" r="1.9"/><circle cx="565.11" cy="115.63" r="1.9"/><circle cx="566.97" cy="107.73" r="1.9"/><circle cx="573.24" cy="98.21" r="1.9"/><circle cx="544.99" cy="99.28" r="1.9"/><circle cx="544.94" cy="108.13" r="1.9"/><circle cx="535.82" cy="99.02" r="1.9"/><circle cx="555.34" cy="116.74" r="1.9"/><circle cx="549.68" cy="106.39" r="1.9"/><circle cx="578.13" cy="104.85" r="1.9"/><circle cx="567.89" cy="104.55" r="1.9"/><circle cx="560.42" cy="112.61" r="1.9"/><circle cx="563.78" cy="104.59" r="1.9"/><circle cx="554.99" cy="97.73" r="1.9"/><circle cx="569.52" cy="100.74" r="1.9"/><circle cx="550.35" cy="110.48" r="1.9"/><circle cx="562.45" cy="101.77" r="1.9"/><circle cx="534.8" cy="109.8" r="1.9"/><circle cx="548.81" cy="102.93" r="1.9"/><circle cx="530.12" cy="104.79" r="1.9"/><circle cx="573.97" cy="108.83" r="1.9"/><circle cx="558.66" cy="99.88" r="1.9"/><circle cx="553.25" cy="109.2" r="1.9"/><circle cx="533.36" cy="106.58" r="1.9"/><circle cx="555.13" cy="105.35" r="1.9"/><circle cx="542.51" cy="101.4" r="1.9"/><circle cx="546.05" cy="111.43" r="1.9"/><circle cx="557.2" cy="111.9" r="1.9"/><circle cx="560.03" cy="109.09" r="1.9"/><circle cx="570.98" cy="103.71" r="1.9"/><circle cx="533.7" cy="103.23" r="1.9"/><circle cx="576.59" cy="99.5" r="1.9"/><circle cx="554.77" cy="101.25" r="1.9"/><circle cx="570.08" cy="107.68" r="1.9"/><circle cx="528.97" cy="101.66" r="1.9"/><circle cx="560.72" cy="106.15" r="1.9"/><circle cx="538.95" cy="112.82" r="1.9"/><circle cx="548.13" cy="98.6" r="1.9"/><circle cx="530.43" cy="107.98" r="1.9"/><circle cx="576.89" cy="107.91" r="1.9"/><circle cx="529.13" cy="98.57" r="1.9"/><circle cx="546.79" cy="105.18" r="1.9"/><circle cx="532.92" cy="97.58" r="1.9"/><circle cx="542" cy="109.41" r="1.9"/><circle cx="573.14" cy="105.93" r="1.9"/></g>
<g fill="#ec3124"><circle cx="628.4" cy="69.6" r="1.9"/><circle cx="635.7" cy="67.9" r="1.9"/><circle cx="624.7" cy="76.8" r="1.9"/><circle cx="632" cy="74.5" r="1.9"/><circle cx="639.4" cy="75" r="1.9"/><circle cx="628.4" cy="84.4" r="1.9"/><circle cx="635.7" cy="83" r="1.9"/><circle cx="628.9" cy="91.2" r="1.9"/><circle cx="635.2" cy="92.3" r="1.9"/><circle cx="624.4" cy="96.3" r="1.9"/><circle cx="627.2" cy="95.2" r="1.9"/><circle cx="636.3" cy="96.3" r="1.9"/><circle cx="639.1" cy="97.4" r="1.9"/><circle cx="641.4" cy="99.7" r="1.9"/><circle cx="634" cy="99.7" r="1.9"/><circle cx="620.4" cy="103.1" r="1.9"/><circle cx="626.1" cy="102.5" r="1.9"/><circle cx="637.4" cy="102.5" r="1.9"/><circle cx="642" cy="103.7" r="1.9"/><circle cx="631" cy="97" r="1.9"/><circle cx="631" cy="101" r="1.9"/><circle cx="624" cy="99.5" r="1.9"/><circle cx="630" cy="104.5" r="1.9"/><circle cx="623" cy="106" r="1.9"/><circle cx="640" cy="106.5" r="1.9"/><circle cx="634" cy="106.5" r="1.9"/><circle cx="618" cy="106.5" r="1.9"/><circle cx="645" cy="107" r="1.9"/><circle cx="611.3" cy="110.9" r="1.9"/><circle cx="615.9" cy="111.5" r="1.9"/><circle cx="620.4" cy="112" r="1.9"/><circle cx="626.7" cy="142.6" r="1.9"/><circle cx="630.5" cy="142" r="1.9"/><circle cx="635.2" cy="143.2" r="1.9"/><circle cx="632.3" cy="157.9" r="1.9"/><circle cx="627.22" cy="99.69" r="1.9"/><circle cx="626.24" cy="106.26" r="1.9"/><circle cx="636.85" cy="107.45" r="1.9"/><circle cx="630.02" cy="107.64" r="1.9"/><circle cx="634.36" cy="103.1" r="1.9"/><circle cx="637.09" cy="99.58" r="1.9"/><circle cx="620.74" cy="107.83" r="1.9"/><circle cx="637.53" cy="133.77" r="1.9"/><circle cx="620.65" cy="124.92" r="1.9"/><circle cx="634.52" cy="111.01" r="1.9"/><circle cx="642.07" cy="124.5" r="1.9"/><circle cx="645.2" cy="121.71" r="1.9"/><circle cx="647.23" cy="118.83" r="1.9"/><circle cx="630.17" cy="131.95" r="1.9"/><circle cx="638.39" cy="126.45" r="1.9"/><circle cx="634.75" cy="116.54" r="1.9"/><circle cx="628.24" cy="134.11" r="1.9"/><circle cx="646.1" cy="113.67" r="1.9"/><circle cx="624.35" cy="129.22" r="1.9"/><circle cx="632.46" cy="138.3" r="1.9"/><circle cx="639.84" cy="116.77" r="1.9"/><circle cx="653.2" cy="121.34" r="1.9"/><circle cx="637.36" cy="129.5" r="1.9"/><circle cx="623.93" cy="111.82" r="1.9"/><circle cx="615.83" cy="127.91" r="1.9"/><circle cx="617.33" cy="119.96" r="1.9"/><circle cx="615.34" cy="124.88" r="1.9"/><circle cx="650.31" cy="117.02" r="1.9"/><circle cx="619.07" cy="131.04" r="1.9"/><circle cx="623.98" cy="133.33" r="1.9"/><circle cx="626.63" cy="121.83" r="1.9"/><circle cx="656.26" cy="114.64" r="1.9"/><circle cx="626.93" cy="112.54" r="1.9"/><circle cx="628.65" cy="139.15" r="1.9"/><circle cx="636.27" cy="139.1" r="1.9"/><circle cx="642.85" cy="130.24" r="1.9"/><circle cx="632.42" cy="133.85" r="1.9"/><circle cx="612.35" cy="122.74" r="1.9"/><circle cx="608.19" cy="115.94" r="1.9"/><circle cx="620.2" cy="121.36" r="1.9"/><circle cx="649.87" cy="123.96" r="1.9"/><circle cx="627.85" cy="118.31" r="1.9"/><circle cx="631.07" cy="118.69" r="1.9"/><circle cx="645.5" cy="129.92" r="1.9"/><circle cx="631.17" cy="122.43" r="1.9"/><circle cx="608" cy="119.35" r="1.9"/><circle cx="640.59" cy="111.86" r="1.9"/><circle cx="642.29" cy="114.22" r="1.9"/><circle cx="654.38" cy="116.53" r="1.9"/><circle cx="628.11" cy="128.61" r="1.9"/><circle cx="629.56" cy="125.11" r="1.9"/><circle cx="618.39" cy="128.41" r="1.9"/><circle cx="638.66" cy="114.03" r="1.9"/><circle cx="639.6" cy="130.91" r="1.9"/><circle cx="642.82" cy="118.93" r="1.9"/><circle cx="625.66" cy="137.47" r="1.9"/><circle cx="632.22" cy="129.33" r="1.9"/><circle cx="631.87" cy="113.12" r="1.9"/><circle cx="621.03" cy="115.31" r="1.9"/><circle cx="635.44" cy="131.56" r="1.9"/><circle cx="647.1" cy="127.22" r="1.9"/><circle cx="612.61" cy="114.45" r="1.9"/><circle cx="617.96" cy="123.72" r="1.9"/><circle cx="635.73" cy="135.66" r="1.9"/><circle cx="621.89" cy="128" r="1.9"/><circle cx="608.06" cy="112.95" r="1.9"/><circle cx="636.42" cy="122.02" r="1.9"/><circle cx="635.71" cy="127.17" r="1.9"/><circle cx="645.6" cy="124.5" r="1.9"/><circle cx="614.1" cy="118.23" r="1.9"/><circle cx="611.75" cy="119.75" r="1.9"/><circle cx="625.06" cy="125.01" r="1.9"/><circle cx="616.26" cy="116.03" r="1.9"/><circle cx="649.44" cy="111.86" r="1.9"/><circle cx="648.25" cy="121.71" r="1.9"/><circle cx="609.57" cy="123.79" r="1.9"/><circle cx="620.67" cy="118.24" r="1.9"/><circle cx="640.23" cy="120.13" r="1.9"/><circle cx="612.76" cy="125.57" r="1.9"/><circle cx="624.8" cy="117.4" r="1.9"/><circle cx="652.94" cy="124.02" r="1.9"/><circle cx="643.55" cy="111.34" r="1.9"/><circle cx="634.28" cy="120.36" r="1.9"/><circle cx="637.22" cy="119.51" r="1.9"/><circle cx="614.4" cy="121.05" r="1.9"/><circle cx="656.41" cy="119.32" r="1.9"/><circle cx="652.85" cy="112.98" r="1.9"/><circle cx="623.35" cy="122.68" r="1.9"/><circle cx="632.52" cy="125.93" r="1.9"/><circle cx="648.77" cy="114.76" r="1.9"/><circle cx="639.31" cy="123.41" r="1.9"/><circle cx="635.9" cy="113.47" r="1.9"/><circle cx="645.85" cy="116.53" r="1.9"/><circle cx="617.92" cy="113.78" r="1.9"/><circle cx="650.68" cy="119.84" r="1.9"/><circle cx="650.26" cy="126.85" r="1.9"/><circle cx="643" cy="127.49" r="1.9"/><circle cx="628.43" cy="115.55" r="1.9"/><circle cx="630.74" cy="136.31" r="1.9"/><circle cx="631.63" cy="115.95" r="1.9"/><circle cx="627" cy="131.04" r="1.9"/><circle cx="629.77" cy="111.2" r="1.9"/><circle cx="623.1" cy="119.54" r="1.9"/><circle cx="640.15" cy="133.84" r="1.9"/><circle cx="633.73" cy="123.46" r="1.9"/><circle cx="623.74" cy="114.41" r="1.9"/><circle cx="610.94" cy="117.25" r="1.9"/><circle cx="622.16" cy="131.19" r="1.9"/><circle cx="638.28" cy="136.3" r="1.9"/><circle cx="637.12" cy="111.17" r="1.9"/><circle cx="655.7" cy="122.12" r="1.9"/><circle cx="613.13" cy="128.15" r="1.9"/><circle cx="610.17" cy="126.38" r="1.9"/><circle cx="642.35" cy="121.71" r="1.9"/><circle cx="640.43" cy="128.1" r="1.9"/><circle cx="628.98" cy="120.66" r="1.9"/><circle cx="646.68" cy="111.02" r="1.9"/></g>
<line x1="73" y1="92.9" x2="125.2" y2="92.9" stroke="#3a3a3a" stroke-width="1.5"/>
<line x1="85.9" y1="75" x2="112.3" y2="75" stroke="#3a3a3a" stroke-width="1.5"/>
<line x1="98.8" y1="75" x2="98.8" y2="92.9" stroke="#3a3a3a" stroke-width="1.5"/>
<line x1="151.2" y1="78.6" x2="202.9" y2="78.6" stroke="#3a3a3a" stroke-width="1.5"/>
<line x1="163.7" y1="68.4" x2="190.4" y2="68.4" stroke="#3a3a3a" stroke-width="1.5"/>
<line x1="177" y1="68.4" x2="177" y2="78.6" stroke="#3a3a3a" stroke-width="1.5"/>
<line x1="303.4" y1="119.1" x2="355.8" y2="119.1" stroke="#3a3a3a" stroke-width="1.5"/>
<line x1="316.1" y1="106.3" x2="342.7" y2="106.3" stroke="#3a3a3a" stroke-width="1.5"/>
<line x1="329.7" y1="106.3" x2="329.7" y2="119.1" stroke="#3a3a3a" stroke-width="1.5"/>
<line x1="382" y1="80.1" x2="433.9" y2="80.1" stroke="#3a3a3a" stroke-width="1.5"/>
<line x1="394.8" y1="67.2" x2="421" y2="67.2" stroke="#3a3a3a" stroke-width="1.5"/>
<line x1="407.9" y1="67.2" x2="407.9" y2="80.1" stroke="#3a3a3a" stroke-width="1.5"/>
<line x1="527.4" y1="96" x2="579.8" y2="96" stroke="#3a3a3a" stroke-width="1.5"/>
<line x1="540.2" y1="79.7" x2="567" y2="79.7" stroke="#3a3a3a" stroke-width="1.5"/>
<line x1="553.7" y1="79.7" x2="553.7" y2="96" stroke="#3a3a3a" stroke-width="1.5"/>
<line x1="606.2" y1="109" x2="658.1" y2="109" stroke="#3a3a3a" stroke-width="1.5"/>
<line x1="618.7" y1="93.1" x2="645.7" y2="93.1" stroke="#3a3a3a" stroke-width="1.5"/>
<line x1="631.7" y1="93.1" x2="631.7" y2="109" stroke="#3a3a3a" stroke-width="1.5"/>
<line x1="67.2" y1="212.24" x2="72" y2="212.24" stroke="#3a3a3a" stroke-width="1.3"/>
<text x="65.8" y="217.14" font-size="14" text-anchor="end" fill="#1e1e1e">150</text>
<line x1="67.2" y1="254.16" x2="72" y2="254.16" stroke="#3a3a3a" stroke-width="1.3"/>
<text x="65.8" y="259.06" font-size="14" text-anchor="end" fill="#1e1e1e">100</text>
<line x1="67.2" y1="296.08" x2="72" y2="296.08" stroke="#3a3a3a" stroke-width="1.3"/>
<text x="65.8" y="300.98" font-size="14" text-anchor="end" fill="#1e1e1e">50</text>
<line x1="67.2" y1="379.92" x2="72" y2="379.92" stroke="#3a3a3a" stroke-width="1.3"/>
<text x="65.8" y="384.82" font-size="14" text-anchor="end" fill="#1e1e1e">−<tspan dx="-1.4">50</tspan></text>
<line x1="72" y1="211.64" x2="72" y2="380.52" stroke="#3a3a3a" stroke-width="1.6"/>
<line x1="16.6" y1="338" x2="182.8" y2="338" stroke="#3a3a3a" stroke-width="1.3"/>
<line x1="16.6" y1="337.5" x2="16.6" y2="342.2" stroke="#3a3a3a" stroke-width="1.3"/>
<text x="13.11" y="353.6" font-size="14" text-anchor="middle" fill="#1e1e1e">−<tspan dx="-1.2">40</tspan></text>
<line x1="44.3" y1="337.5" x2="44.3" y2="342.2" stroke="#3a3a3a" stroke-width="1.3"/>
<text x="40.81" y="353.6" font-size="14" text-anchor="middle" fill="#1e1e1e">−<tspan dx="-1.2">20</tspan></text>
<line x1="72" y1="337.5" x2="72" y2="342.2" stroke="#3a3a3a" stroke-width="1.3"/>
<line x1="99.7" y1="337.5" x2="99.7" y2="342.2" stroke="#3a3a3a" stroke-width="1.3"/>
<text x="99.7" y="353.6" font-size="14" text-anchor="middle" fill="#1e1e1e">20</text>
<line x1="127.4" y1="337.5" x2="127.4" y2="342.2" stroke="#3a3a3a" stroke-width="1.3"/>
<text x="127.4" y="353.6" font-size="14" text-anchor="middle" fill="#1e1e1e">40</text>
<line x1="155.1" y1="337.5" x2="155.1" y2="342.2" stroke="#3a3a3a" stroke-width="1.3"/>
<text x="155.1" y="353.6" font-size="14" text-anchor="middle" fill="#1e1e1e">60</text>
<line x1="182.8" y1="337.5" x2="182.8" y2="342.2" stroke="#3a3a3a" stroke-width="1.3"/>
<text x="182.8" y="353.6" font-size="14" text-anchor="middle" fill="#1e1e1e">80</text>
<line x1="43.9" y1="338.1" x2="166" y2="300.3" stroke="#222" stroke-width="1.2"/>
<g fill="#4f2c92"><circle cx="76.1" cy="248.1" r="3.65"/><circle cx="81.4" cy="297.8" r="3.65"/><circle cx="161.8" cy="283.5" r="3.65"/><circle cx="166" cy="300.3" r="3.65"/><circle cx="44.2" cy="330.9" r="3.65"/><circle cx="45.7" cy="332.4" r="3.65"/><circle cx="49.9" cy="328.5" r="3.65"/><circle cx="58" cy="334.8" r="3.65"/><circle cx="58" cy="338" r="3.65"/><circle cx="45.6" cy="342.4" r="3.65"/><circle cx="47" cy="342.6" r="3.65"/><circle cx="66.3" cy="343.5" r="3.65"/><circle cx="76.2" cy="323.3" r="3.65"/><circle cx="87.2" cy="321.5" r="3.65"/><circle cx="87.5" cy="327.4" r="3.65"/><circle cx="84.6" cy="331.8" r="3.65"/><circle cx="77.5" cy="332.7" r="3.65"/><circle cx="99.6" cy="321.8" r="3.65"/><circle cx="95.7" cy="334" r="3.65"/><circle cx="96.8" cy="341.5" r="3.65"/><circle cx="112" cy="331.7" r="3.65"/><circle cx="128.5" cy="332.4" r="3.65"/><circle cx="42.9" cy="367.4" r="3.65"/></g>
<text x="93.5" y="261.8" font-size="13.4" text-anchor="start" fill="#1e1e1e"><tspan font-style="italic">R</tspan> = 0.45</text>
<text x="93.5" y="275.2" font-size="13.4" text-anchor="start" fill="#1e1e1e"><tspan font-style="italic">P</tspan> = 0.0261</text>
<text transform="translate(12.2,279.5) rotate(-90)" font-size="13" text-anchor="middle" fill="#1e1e1e">Δ<tspan font-style="italic">CD3E</tspan></text>
<text x="80.2" y="395.7" font-size="13" text-anchor="start" fill="#1e1e1e">Δ<tspan font-style="italic">VEGFC</tspan></text>
<line x1="312.6" y1="224.3" x2="317.4" y2="224.3" stroke="#3a3a3a" stroke-width="1.3"/>
<text x="308.8" y="229.2" font-size="14" text-anchor="end" fill="#1e1e1e">1,000</text>
<line x1="312.6" y1="265.6" x2="317.4" y2="265.6" stroke="#3a3a3a" stroke-width="1.3"/>
<text x="308.8" y="270.5" font-size="14" text-anchor="end" fill="#1e1e1e">500</text>
<line x1="312.6" y1="348.2" x2="317.4" y2="348.2" stroke="#3a3a3a" stroke-width="1.3"/>
<text x="308.8" y="353.1" font-size="14" text-anchor="end" fill="#1e1e1e">−<tspan dx="-1.4">500</tspan></text>
<line x1="312.6" y1="389.5" x2="317.4" y2="389.5" stroke="#3a3a3a" stroke-width="1.3"/>
<text x="308.8" y="394.4" font-size="14" text-anchor="end" fill="#1e1e1e">−<tspan dx="-1.4">1,000</tspan></text>
<line x1="317.4" y1="223.7" x2="317.4" y2="390.1" stroke="#3a3a3a" stroke-width="1.6"/>
<line x1="262" y1="306.9" x2="428.2" y2="306.9" stroke="#3a3a3a" stroke-width="1.3"/>
<line x1="262" y1="306.4" x2="262" y2="311.1" stroke="#3a3a3a" stroke-width="1.3"/>
<text x="258.51" y="321.8" font-size="14" text-anchor="middle" fill="#1e1e1e">−<tspan dx="-1.2">40</tspan></text>
<line x1="289.7" y1="306.4" x2="289.7" y2="311.1" stroke="#3a3a3a" stroke-width="1.3"/>
<text x="286.21" y="321.8" font-size="14" text-anchor="middle" fill="#1e1e1e">−<tspan dx="-1.2">20</tspan></text>
<line x1="317.4" y1="306.4" x2="317.4" y2="311.1" stroke="#3a3a3a" stroke-width="1.3"/>
<line x1="345.1" y1="306.4" x2="345.1" y2="311.1" stroke="#3a3a3a" stroke-width="1.3"/>
<text x="345.1" y="321.8" font-size="14" text-anchor="middle" fill="#1e1e1e">20</text>
<line x1="372.8" y1="306.4" x2="372.8" y2="311.1" stroke="#3a3a3a" stroke-width="1.3"/>
<text x="372.8" y="321.8" font-size="14" text-anchor="middle" fill="#1e1e1e">40</text>
<line x1="400.5" y1="306.4" x2="400.5" y2="311.1" stroke="#3a3a3a" stroke-width="1.3"/>
<text x="400.5" y="321.8" font-size="14" text-anchor="middle" fill="#1e1e1e">60</text>
<line x1="428.2" y1="306.4" x2="428.2" y2="311.1" stroke="#3a3a3a" stroke-width="1.3"/>
<text x="428.2" y="321.8" font-size="14" text-anchor="middle" fill="#1e1e1e">80</text>
<line x1="288.9" y1="309.6" x2="411.7" y2="237.6" stroke="#222" stroke-width="1.2"/>
<g fill="#4f2c92"><circle cx="321.6" cy="238.9" r="3.65"/><circle cx="327" cy="253.8" r="3.65"/><circle cx="342.2" cy="259.4" r="3.65"/><circle cx="332.7" cy="271.2" r="3.65"/><circle cx="332.1" cy="273.9" r="3.65"/><circle cx="329.6" cy="277.1" r="3.65"/><circle cx="340.9" cy="278.3" r="3.65"/><circle cx="311.9" cy="280.2" r="3.65"/><circle cx="322.9" cy="285" r="3.65"/><circle cx="321.4" cy="292.2" r="3.65"/><circle cx="332.5" cy="293.5" r="3.65"/><circle cx="357.3" cy="286.6" r="3.65"/><circle cx="375.2" cy="282.9" r="3.65"/><circle cx="345" cy="297.6" r="3.65"/><circle cx="303.7" cy="298.6" r="3.65"/><circle cx="295.2" cy="302.6" r="3.65"/><circle cx="291.4" cy="304.1" r="3.65"/><circle cx="289.5" cy="312" r="3.65"/><circle cx="292.6" cy="313.9" r="3.65"/><circle cx="291.4" cy="318.3" r="3.65"/><circle cx="303.7" cy="330.6" r="3.65"/><circle cx="288.3" cy="352.7" r="3.65"/><circle cx="411.4" cy="231.6" r="3.65"/><circle cx="407.4" cy="252.2" r="3.65"/></g>
<text x="348" y="351.9" font-size="13.4" text-anchor="start" fill="#1e1e1e"><tspan font-style="italic">R</tspan> = 0.71</text>
<text x="348" y="365.6" font-size="13.4" text-anchor="start" fill="#1e1e1e"><tspan font-style="italic">P</tspan> = 0.0001</text>
<text transform="translate(236.4,281.8) rotate(-90)" font-size="13" text-anchor="middle" fill="#1e1e1e">Δ<tspan font-style="italic">CD4</tspan></text>
<text x="332.3" y="395.9" font-size="13" text-anchor="start" fill="#1e1e1e">Δ<tspan font-style="italic">VEGFC</tspan></text>
<line x1="551.4" y1="220.02" x2="556.2" y2="220.02" stroke="#3a3a3a" stroke-width="1.3"/>
<text x="551.4" y="224.92" font-size="14" text-anchor="end" fill="#1e1e1e">30</text>
<line x1="551.4" y1="253.18" x2="556.2" y2="253.18" stroke="#3a3a3a" stroke-width="1.3"/>
<text x="551.4" y="258.08" font-size="14" text-anchor="end" fill="#1e1e1e">20</text>
<line x1="551.4" y1="286.34" x2="556.2" y2="286.34" stroke="#3a3a3a" stroke-width="1.3"/>
<text x="551.4" y="291.24" font-size="14" text-anchor="end" fill="#1e1e1e">10</text>
<line x1="551.4" y1="352.66" x2="556.2" y2="352.66" stroke="#3a3a3a" stroke-width="1.3"/>
<text x="551.4" y="357.56" font-size="14" text-anchor="end" fill="#1e1e1e">−<tspan dx="-1.4">10</tspan></text>
<line x1="551.4" y1="385.82" x2="556.2" y2="385.82" stroke="#3a3a3a" stroke-width="1.3"/>
<text x="551.4" y="390.72" font-size="14" text-anchor="end" fill="#1e1e1e">−<tspan dx="-1.4">20</tspan></text>
<line x1="556.2" y1="219.42" x2="556.2" y2="386.42" stroke="#3a3a3a" stroke-width="1.6"/>
<line x1="500.8" y1="319.5" x2="667" y2="319.5" stroke="#3a3a3a" stroke-width="1.3"/>
<line x1="500.8" y1="319" x2="500.8" y2="323.7" stroke="#3a3a3a" stroke-width="1.3"/>
<text x="497.31" y="335.6" font-size="14" text-anchor="middle" fill="#1e1e1e">−<tspan dx="-1.2">40</tspan></text>
<line x1="528.5" y1="319" x2="528.5" y2="323.7" stroke="#3a3a3a" stroke-width="1.3"/>
<text x="525.01" y="335.6" font-size="14" text-anchor="middle" fill="#1e1e1e">−<tspan dx="-1.2">20</tspan></text>
<line x1="556.2" y1="319" x2="556.2" y2="323.7" stroke="#3a3a3a" stroke-width="1.3"/>
<line x1="583.9" y1="319" x2="583.9" y2="323.7" stroke="#3a3a3a" stroke-width="1.3"/>
<text x="583.9" y="335.6" font-size="14" text-anchor="middle" fill="#1e1e1e">20</text>
<line x1="611.6" y1="319" x2="611.6" y2="323.7" stroke="#3a3a3a" stroke-width="1.3"/>
<text x="611.6" y="335.6" font-size="14" text-anchor="middle" fill="#1e1e1e">40</text>
<line x1="639.3" y1="319" x2="639.3" y2="323.7" stroke="#3a3a3a" stroke-width="1.3"/>
<text x="639.3" y="335.6" font-size="14" text-anchor="middle" fill="#1e1e1e">60</text>
<line x1="667" y1="319" x2="667" y2="323.7" stroke="#3a3a3a" stroke-width="1.3"/>
<text x="667" y="335.6" font-size="14" text-anchor="middle" fill="#1e1e1e">80</text>
<line x1="525.6" y1="319.4" x2="650.1" y2="245.8" stroke="#222" stroke-width="1.2"/>
<g fill="#4f2c92"><circle cx="529.6" cy="310.3" r="3.65"/><circle cx="526.6" cy="323.2" r="3.65"/><circle cx="542.3" cy="319.6" r="3.65"/><circle cx="533.8" cy="336.7" r="3.65"/><circle cx="528.1" cy="350.1" r="3.65"/><circle cx="529.6" cy="363" r="3.65"/><circle cx="530.8" cy="376.5" r="3.65"/><circle cx="570.9" cy="323.2" r="3.65"/><circle cx="579.5" cy="319.6" r="3.65"/><circle cx="560.4" cy="253.4" r="3.65"/><circle cx="565.9" cy="253.4" r="3.65"/><circle cx="583.6" cy="243.4" r="3.65"/><circle cx="571" cy="260.2" r="3.65"/><circle cx="596.1" cy="260.2" r="3.65"/><circle cx="550.3" cy="267" r="3.65"/><circle cx="581" cy="273.6" r="3.65"/><circle cx="561.6" cy="286.7" r="3.65"/><circle cx="571" cy="289.7" r="3.65"/><circle cx="568.4" cy="293.5" r="3.65"/><circle cx="542.2" cy="293.5" r="3.65"/><circle cx="614.4" cy="296.5" r="3.65"/><circle cx="646" cy="246.6" r="3.65"/><circle cx="650.1" cy="293.4" r="3.65"/></g>
<text x="580.3" y="357.8" font-size="13.4" text-anchor="start" fill="#1e1e1e"><tspan font-style="italic">R</tspan> = 0.53</text>
<text x="580.3" y="372.4" font-size="13.4" text-anchor="start" fill="#1e1e1e"><tspan font-style="italic">P</tspan> = 0.0072</text>
<text transform="translate(487.8,285.3) rotate(-90)" font-size="13" text-anchor="middle" fill="#1e1e1e">Δ<tspan font-style="italic">CD8B</tspan></text>
<text x="571" y="395.6" font-size="13" text-anchor="start" fill="#1e1e1e">Δ<tspan font-style="italic">VEGFC</tspan></text>
</svg></body></html>
